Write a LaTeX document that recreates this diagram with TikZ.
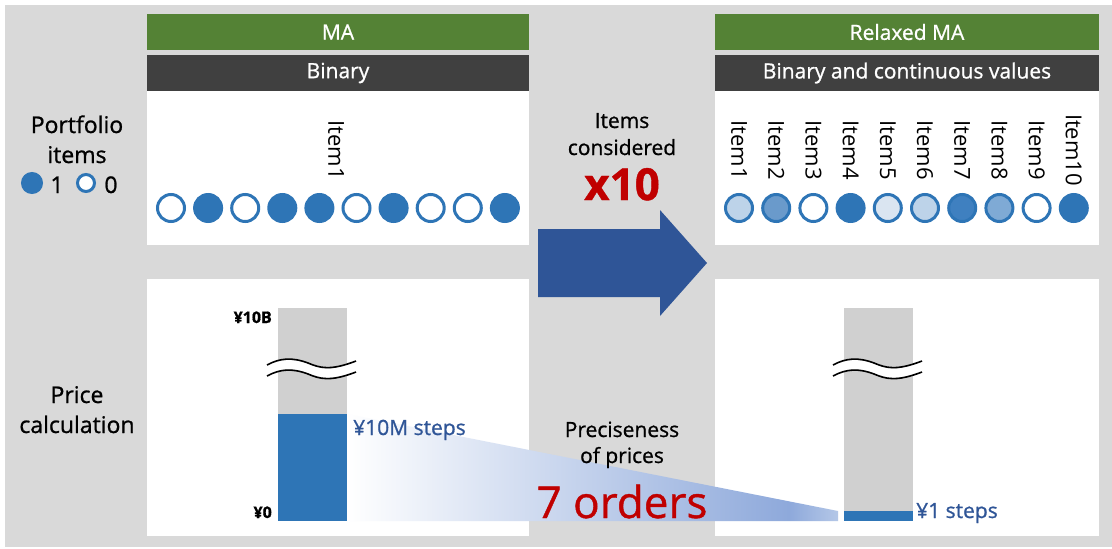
\documentclass[tikz,border=0pt]{standalone}
\usepackage{fontspec}
\setmainfont{Open Sans}[RawFeature={embolden=0.9}]
\newfontfamily\itemfont{Open Sans}
\usepackage{tikz}
\usetikzlibrary{positioning}
\usetikzlibrary{shapes.geometric, arrows}

\definecolor{bggray}{HTML}{D9D9D9}
\definecolor{magreen}{HTML}{548235}
\definecolor{darkbar}{HTML}{404040}
\definecolor{itemblue}{HTML}{2E75B6}
\definecolor{arrowblue}{HTML}{2F5597}
\definecolor{stepblue}{HTML}{2F5597}
\definecolor{ordred}{HTML}{C00000}
\definecolor{bargray}{HTML}{D0D0D0}
\definecolor{shadeblue}{HTML}{8EA9DB}
\definecolor{shadelight}{HTML}{B4C7E7}

\newcommand{\fsbar}{\fontsize{21}{25}\selectfont}
\newcommand{\fsside}{\fontsize{23}{28}\selectfont}
\newcommand{\fsitem}{\itemfont\fontsize{22}{26}\selectfont}
\newcommand{\fstick}{\fontsize{16}{19}\selectfont}
\newcommand{\fsbig}{\fontsize{44}{50}\selectfont}

\pgfdeclarehorizontalshading{precshade}{100bp}{color(0bp)=(white); color(25bp)=(white); color(70bp)=(shadeblue); color(75bp)=(shadelight); color(100bp)=(shadelight)}

\tikzstyle{titlebar} = [fill=magreen, text=white, font=\fsbar, minimum height=36pt, inner sep=0pt, outer sep=0pt]
\tikzstyle{subbar} = [fill=darkbar, text=white, font=\fsbar, minimum height=36pt, inner sep=0pt, outer sep=0pt]
\tikzstyle{panel} = [fill=white, inner sep=0pt, outer sep=0pt]
\tikzstyle{itemdot} = [circle, draw=itemblue, line width=3pt, minimum size=27pt, inner sep=0pt]
\tikzstyle{legdot} = [circle, draw=itemblue, line width=3pt, minimum size=17pt, inner sep=0pt]
\tikzstyle{itemlabel} = [font=\fsitem, rotate=-90, inner sep=0pt]
\tikzstyle{sidetext} = [font=\fsside, anchor=base, inner sep=0pt]
\tikzstyle{midtext} = [font=\fsbar, anchor=base, inner sep=0pt]
\tikzstyle{bigred} = [font=\fsbig, text=ordred, anchor=base, inner sep=0pt]
\tikzstyle{steplabel} = [font=\fsbar, text=stepblue, anchor=base west, inner sep=0pt]
\tikzstyle{ticklabel} = [font=\fstick\bfseries, anchor=base east, inner sep=0pt]
\tikzstyle{bar} = [fill=bargray, minimum width=69pt, inner sep=0pt, outer sep=0pt]
\tikzstyle{fillbar} = [fill=itemblue, minimum width=69pt, inner sep=0pt, outer sep=0pt]

\tikzset{breakwave/.pic={
    \draw[white, line width=9pt] (-11,0) .. controls (2,-7) and (14,-8) .. (30,-2) .. controls (42,3) and (52,6) .. (78,-4);
    \draw[black, line width=1.6pt, yshift=5.5pt] (-11,0) .. controls (2,-7) and (14,-8) .. (30,-2) .. controls (42,3) and (52,6) .. (78,-4);
    \draw[black, line width=1.6pt, yshift=-5.5pt] (-11,0) .. controls (2,-7) and (14,-8) .. (30,-2) .. controls (42,3) and (52,6) .. (78,-4);
}}

\begin{document}
\begin{tikzpicture}[x=1pt, y=-1pt]
    \useasboundingbox (0,0) rectangle (1112,549);
    \fill[bggray] (5,5) rectangle (1112,547);

    %Panels
    \node[titlebar, minimum width=382pt, anchor=north west] (maTitle) at (147,14) {MA};
    \node[subbar, minimum width=382pt, below=5pt of maTitle] (maSub) {Binary};
    \node[panel, minimum width=382pt, minimum height=154pt, below=0pt of maSub] (maItems) {};
    \node[panel, minimum width=382pt, minimum height=257pt, anchor=north west] (maPrice) at (147,279) {};

    \node[titlebar, minimum width=384pt, anchor=north west] (rTitle) at (715,14) {Relaxed MA};
    \node[subbar, minimum width=384pt, below=5pt of rTitle] (rSub) {Binary and continuous values};
    \node[panel, minimum width=384pt, minimum height=154pt, below=0pt of rSub] (rItems) {};
    \node[panel, minimum width=384pt, minimum height=257pt, anchor=north west] (rPrice) at (715,279) {};

    %Row labels
    \node[sidetext] (portLabel) at (77,133) {Portfolio};
    \node[sidetext] (itemsLabel) at (77,163) {items};
    \node[legdot, fill=itemblue, minimum size=19pt] (legOne) at (32,183) {};
    \node[sidetext] (legOneText) at (57,193) {1};
    \node[legdot, fill=white] (legZero) at (86,183) {};
    \node[sidetext] (legZeroText) at (111,193) {0};
    \node[sidetext] (priceLabel) at (77,403) {Price};
    \node[sidetext] (calcLabel) at (77,433) {calculation};

    %Item dots
    \node[itemlabel] (maItem1) at (336,150) {Item1};
    \foreach \i/\c in {1/white,2/itemblue,3/white,4/itemblue,5/itemblue,6/white,7/itemblue,8/white,9/white,10/itemblue}
        \node[itemdot, fill=\c] (maDot\i) at ({171+37.1*(\i-1)},208) {};

    \foreach \i/\c in {1/BDD3E9,2/6A9ACB,3/FFFFFF,4/2E75B6,5/DAE5F1,6/BDD3E9,7/3F80C0,8/7FAAD5,9/FFFFFF,10/2E75B6}{
        \definecolor{dotfill}{HTML}{\c}
        \node[itemdot, fill=dotfill] (rDot\i) at ({739+37.2*(\i-1)},208) {};
        \node[itemlabel] (rItem\i) at ({739+37.2*(\i-1)},150) {Item\i};
    }

    %Arrow
    \fill[arrowblue] (538,229) -- (660,229) -- (660,210) -- (707,263) -- (660,316) -- (660,297) -- (538,297) -- cycle;
    \node[midtext] (itemsText) at (622,128) {Items};
    \node[midtext] (consText) at (622,155) {considered};
    \node[bigred, font=\fsbig\bfseries] (timesTen) at (622,200) {x10};

    %Bars
    \node[bar, minimum height=213pt, anchor=north west] (maBar) at (278,308) {};
    \node[fillbar, minimum height=107pt, anchor=south west] (maFill) at (maBar.south west) {};
    \node[bar, minimum height=213pt, anchor=north west] (rBar) at (844,308) {};
    \node[fillbar, minimum height=10pt, anchor=south west] (rFill) at (rBar.south west) {};

    \shade[shading=precshade] (maFill.north east) -- ([xshift=-6pt]rFill.north west) -- ([xshift=-6pt]rFill.south west) -- (maFill.south east) -- cycle;

    \pic at ([yshift=-62.5pt]maBar.north west) {breakwave};
    \pic at ([yshift=-62.5pt]rBar.north west) {breakwave};

    \node[ticklabel] (topTick) at (272,323) {¥10B};
    \node[ticklabel] (zeroTick) at (272,518) {¥0};
    \node[steplabel] (maStep) at (353,435) {¥10M steps};
    \node[steplabel] (rStep) at (916,518) {¥1 steps};

    \node[midtext] (precText) at (622,437) {Preciseness};
    \node[midtext] (ofText) at (622,463) {of prices};
    \node[bigred] (ordText) at (622,518) {7 orders};
\end{tikzpicture}
\end{document}
